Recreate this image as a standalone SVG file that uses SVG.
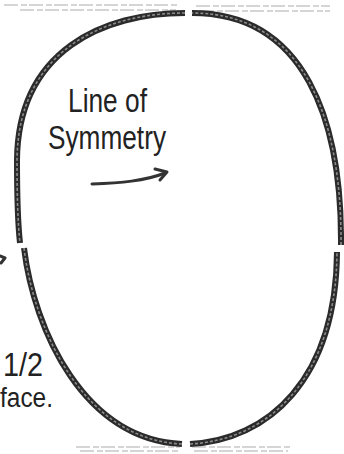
<svg xmlns="http://www.w3.org/2000/svg" width="344" height="454" viewBox="0 0 344 454">
<style>
.edge{fill:none;stroke:#2b2b2b;stroke-width:6;stroke-linecap:butt}
.tex{fill:none;stroke:#8c8c8c;stroke-width:1.6;stroke-dasharray:3 2}
.faint{fill:none;stroke:#c8c8c8;stroke-width:1.3;stroke-dasharray:14 3 6 2}
.lbl{font-family:"Liberation Sans","DejaVu Sans",sans-serif;fill:#222}
.arrow{fill:none;stroke:#333;stroke-width:3;stroke-linecap:round;stroke-linejoin:round}
</style>
<rect width="344" height="454" fill="#fff"/>
<g id="guides">
<path class="faint" d="M4,5 H178 M196,6 H330 M20,10 H176 M200,11 H330"/>
<path class="faint" d="M76,447 H180 M192,447 H290 M80,451 H178 M194,451 H288"/>
</g>
<g id="connectors">
<g id="outline-top-left">
<path class="edge" d="M185,13 C104,13 18,50 17,160 C17,200 18,225 20,243"/>
<path class="tex" d="M185,13 C104,13 18,50 17,160 C17,200 18,225 20,243"/>
</g>
<g id="outline-bottom-left">
<path class="edge" d="M24,248 C34,330 84,440 182,444"/>
<path class="tex" d="M24,248 C34,330 84,440 182,444"/>
</g>
<g id="outline-bottom-right">
<path class="edge" d="M190,444 C268,440 336,380 337,252"/>
<path class="tex" d="M190,444 C268,440 336,380 337,252"/>
</g>
<g id="outline-top-right">
<path class="edge" d="M341,245 C342,120 305,13 192,13"/>
<path class="tex" d="M341,245 C342,120 305,13 192,13"/>
</g>
<g id="symmetry-arrow">
<path class="arrow" d="M92,184 C120,183 145,181 165,173"/>
<path class="arrow" d="M155,169 L167,172 L160,180"/>
</g>
<path id="edge-fragment" class="arrow" stroke-width="2" d="M0,256 L5,258 L1,263"/>
</g>
<g id="label-line-of-symmetry">
<text class="lbl" x="68" y="112" font-size="34" textLength="79" lengthAdjust="spacingAndGlyphs">Line of</text>
<text class="lbl" x="48" y="149" font-size="33" textLength="118" lengthAdjust="spacingAndGlyphs">Symmetry</text>
</g>
<g id="label-half-face">
<text class="lbl" x="3" y="376" font-size="33" textLength="40" lengthAdjust="spacingAndGlyphs">1/2</text>
<text class="lbl" x="0" y="407" font-size="27" textLength="53" lengthAdjust="spacingAndGlyphs">face.</text>
</g>
</svg>
